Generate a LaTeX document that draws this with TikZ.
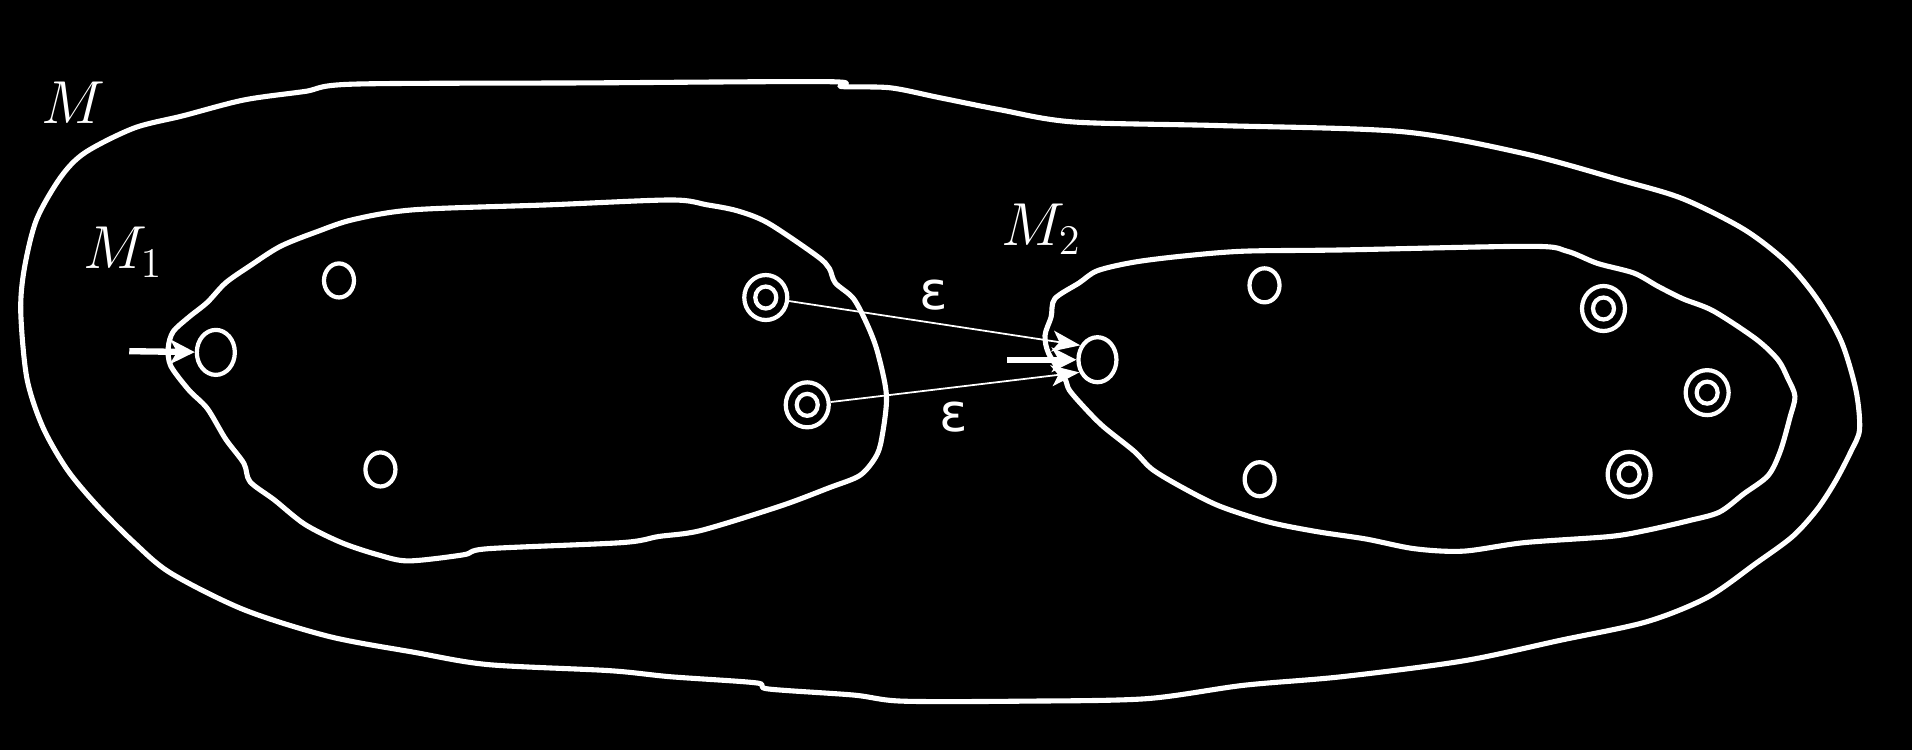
\documentclass[tikz,border=0pt]{standalone}
\usepackage{fontspec}
\newfontfamily\epsfont{DejaVu Sans}
\usetikzlibrary{shapes.geometric,arrows.meta}
\begin{document}
\begin{tikzpicture}[x=0.012194cm,y=-0.012194cm,
  bound/.style={draw=white,line width=1.45pt,line join=round},
  st/.style={ellipse,draw=white,line width=1.2pt,inner sep=0pt,minimum width=0.30cm,minimum height=0.34cm},
  init/.style={ellipse,draw=white,line width=1.2pt,inner sep=0pt,minimum width=0.38cm,minimum height=0.45cm},
  acc/.style={ellipse,draw=white,line width=1.2pt,inner sep=0pt,minimum width=0.43cm,minimum height=0.45cm},
  accin/.style={ellipse,draw=white,line width=1.2pt,inner sep=0pt,minimum width=0.21cm,minimum height=0.22cm},
  initarrow/.style={draw=white,line width=1.8pt,-{Stealth[length=7pt,width=7pt,inset=2pt]}},
  eps/.style={draw=white,line width=0.5pt,-{Stealth[length=8pt,width=6pt,inset=2pt]}},
  lab/.style={text=white,font=\fontsize{16.5}{19}\selectfont},
  epslab/.style={text=white,font=\epsfont\fontsize{15}{18}\selectfont}]
\fill[black] (0,0) rectangle (1568,615);
\useasboundingbox (0,0) rectangle (1568,615);
% outer M
\draw[bound] plot[smooth cycle,tension=0.5] coordinates {
 (290,69) (480,68) (680,67) (690,71) (730,72) (770,80) (820,90) (880,100) (1000,103) (1150,108)
 (1250,126) (1330,148) (1380,163) (1430,188) (1465,215) (1490,245) (1510,280) (1522,320)
 (1525,352) (1518,370) (1505,395) (1490,418) (1470,440) (1440,462) (1400,490) (1350,510)
 (1280,525) (1200,542) (1100,555) (1020,562) (940,573) (840,575) (740,575) (700,570)
 (630,565) (620,560) (550,555) (500,550) (400,545) (340,535) (270,522) (200,500) (140,470)
 (110,445) (80,415) (55,385) (35,350) (22,310) (17,255) (20,220) (30,180) (50,145) (70,125)
 (110,105) (150,95) (200,82) (250,75)};
% M1
\draw[bound] plot[smooth cycle,tension=0.5] coordinates {
 (550,164) (580,168) (605,173) (630,183) (670,210) (680,220) (685,232) (700,245) (712,268)
 (720,290) (727,325) (723,360) (718,375) (705,390) (680,400) (640,415) (575,435) (540,440)
 (510,445) (400,450) (380,455) (335,460) (310,455) (280,445) (250,430) (225,410) (205,395)
 (200,380) (185,360) (170,335) (155,320) (140,300) (138,285) (142,272) (155,260) (170,248)
 (185,232) (205,218) (230,202) (260,190) (290,180) (340,172) (450,168)};
% M2
\draw[bound] plot[smooth cycle,tension=0.5] coordinates {
 (1255,202) (1285,206) (1310,216) (1340,224) (1360,235) (1380,245) (1405,255) (1440,278)
 (1458,295) (1466,310) (1472,325) (1468,342) (1460,370) (1450,390) (1430,405) (1410,420)
 (1385,427) (1350,435) (1320,440) (1250,445) (1200,452) (1160,450) (1120,442) (1080,436)
 (1040,428) (1000,415) (970,400) (945,385) (930,370) (905,350) (890,335) (877,320) (873,310)
 (860,290) (857,275) (862,260) (865,245) (885,232) (900,222) (930,215) (970,210) (1020,206)
 (1100,205)};
% labels
\node[lab] (lM) at (60,84) {$M$};
\node[lab] (lM1) at (101,207) {$M_1$};
\node[lab] (lM2) at (854,188) {$M_2$};
% states M1
\node[init] (q1) at (177,289) {};
\node[st] (a) at (278,230) {};
\node[st] (b) at (312,385) {};
\node[acc] (f1) at (628,244) {};
\node[accin] at (f1) {};
\node[acc] (f2) at (662,332) {};
\node[accin] at (f2) {};
% states M2
\node[init] (q2) at (900,295) {};
\node[st] (c) at (1037,234) {};
\node[st] (d) at (1033,393) {};
\node[acc] (f3) at (1315,253) {};
\node[accin] at (f3) {};
\node[acc] (f4) at (1400,322) {};
\node[accin] at (f4) {};
\node[acc] (f5) at (1336,389) {};
\node[accin] at (f5) {};
% initial arrows
\coordinate (s1) at (106,288);
\coordinate (s2) at (826,295);
\draw[initarrow] (s1) -- (q1);
\draw[initarrow] (s2) -- (q2);
% epsilon transitions
\draw[eps] (f1) -- (q2.140);
\draw[eps] (f2) -- (q2.215);
\node[epslab] (e1) at (766,242) {ε};
\node[epslab] (e2) at (782,342) {ε};
\end{tikzpicture}
\end{document}
